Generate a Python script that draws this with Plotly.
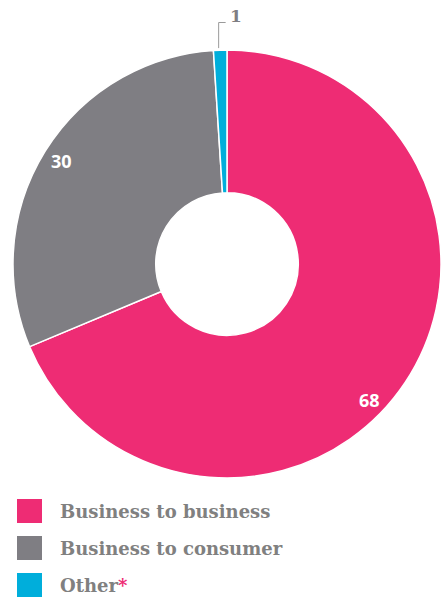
import math
import plotly.graph_objects as go

# ---- data ----
categories = ["Business to business", "Business to consumer", "Other"]
values = [68, 30, 1]
value_labels = ["68", "30", "1"]

# ---- style ----
colors = ["#EE2C74", "#7F7E83", "#00AEDB"]
W, H = 441, 599
dom_x_px = (13, 441)
dom_y_px = (50, 478)
hole = 0.333
label_r_frac = [0.92, 0.91]
label_angle_offset = [10, 0]

cx = (dom_x_px[0] + dom_x_px[1]) / 2
cy = (dom_y_px[0] + dom_y_px[1]) / 2
R = min(dom_x_px[1] - dom_x_px[0], dom_y_px[1] - dom_y_px[0]) / 2


def px(x):
    return x / W


def py(y):
    return 1 - y / H


fig = go.Figure()
fig.add_trace(go.Pie(
    values=values,
    labels=categories,
    hole=hole,
    sort=False,
    direction="clockwise",
    rotation=0,
    marker=dict(colors=colors, line=dict(color="white", width=1.5)),
    textinfo="none",
    hoverinfo="label+value",
    showlegend=False,
    domain=dict(x=[px(dom_x_px[0]), px(dom_x_px[1])],
                y=[py(dom_y_px[1]), py(dom_y_px[0])]),
))

total = sum(values)
cum = 0
annotations = []
shapes = []
for i, v in enumerate(values):
    mid = (cum + v / 2) / total * 360
    cum += v
    if i < 2:
        a = math.radians(mid + label_angle_offset[i])
        r = R * label_r_frac[i]
        x = cx + r * math.sin(a)
        y = cy - r * math.cos(a)
        annotations.append(dict(
            x=px(x), y=py(y), xref="paper", yref="paper",
            text="<b>" + value_labels[i] + "</b>", showarrow=False,
            font=dict(family="Open Sans", size=18, color="white"),
            xanchor="center", yanchor="middle"))
    else:
        a = math.radians(mid)
        x0 = cx + (R + 2) * math.sin(a) - 1.5
        y0 = cy - (R + 2) * math.cos(a)
        ytop = 22.5
        shapes.append(dict(type="path", xref="paper", yref="paper",
                           path=f"M {px(x0)},{py(y0)} L {px(x0)},{py(ytop)} L {px(x0 + 7)},{py(ytop)}",
                           line=dict(color="#9A9A9A", width=1)))
        annotations.append(dict(
            x=px(x0 + 9), y=py(16), xref="paper", yref="paper",
            text="<b>" + value_labels[i] + "</b>", showarrow=False,
            font=dict(family="DejaVu Serif", size=17, color="#7F7E83"),
            xanchor="left", yanchor="middle"))

# ---- manual legend ----
leg_y = [511, 548, 585]
for i, name in enumerate(categories):
    yc = leg_y[i]
    shapes.append(dict(type="rect", xref="paper", yref="paper",
                       x0=px(17), x1=px(42), y0=py(yc + 12), y1=py(yc - 12),
                       fillcolor=colors[i], line=dict(width=0)))
    txt = name
    if name == "Other":
        txt = "Other<span style='color:#EE2C74'>*</span>"
    annotations.append(dict(
        x=px(58), y=py(yc), xref="paper", yref="paper", text="<b>" + txt + "</b>",
        showarrow=False, xanchor="left", yanchor="middle",
        font=dict(family="DejaVu Serif", size=18, color="#808080")))

fig.update_layout(
    width=W, height=H,
    margin=dict(l=0, r=0, t=0, b=0),
    paper_bgcolor="white", plot_bgcolor="white",
    annotations=annotations, shapes=shapes,
)

fig.write_html("out.html")
